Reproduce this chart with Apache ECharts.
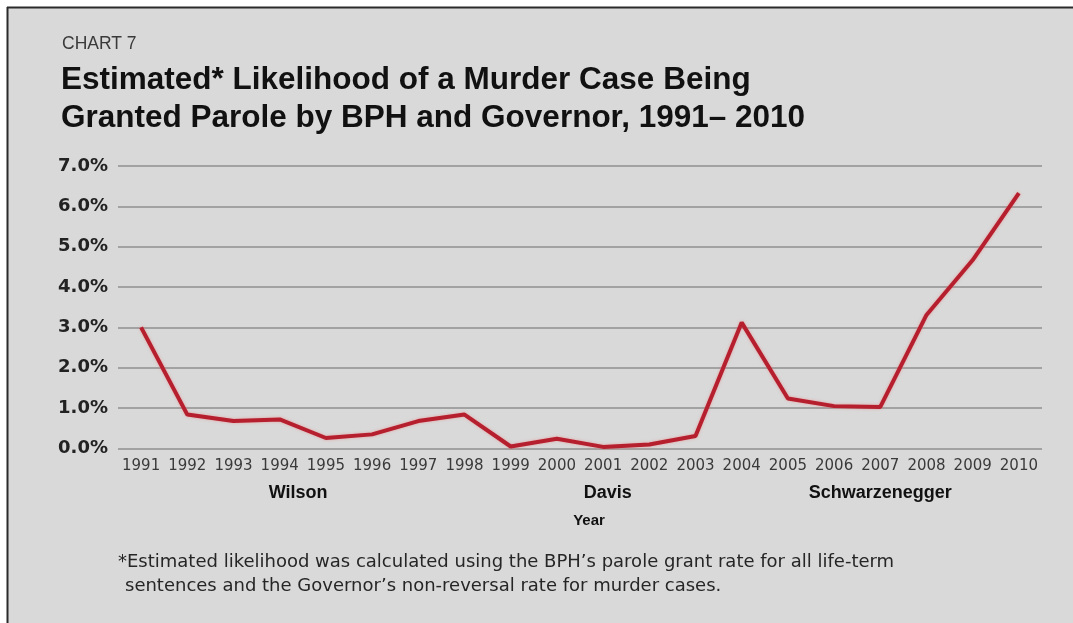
<!DOCTYPE html>
<html>
<head>
<meta charset="utf-8">
<script src="https://cdn.jsdelivr.net/npm/echarts@6/dist/echarts.min.js"></script>
<style>
  html, body { margin: 0; padding: 0; background: #ffffff; }
  #chart { width: 1073px; height: 623px; }
</style>
</head>
<body>
<div id="chart"></div>
<script>
// Years on the horizontal axis
const years = ['1991','1992','1993','1994','1995','1996','1997','1998','1999','2000',
               '2001','2002','2003','2004','2005','2006','2007','2008','2009','2010'];
// Estimated likelihood of parole (percent)
const likelihood = [3.00, 0.84, 0.68, 0.72, 0.26, 0.35, 0.68, 0.84, 0.05, 0.24,
                    0.04, 0.10, 0.31, 3.12, 1.24, 1.05, 1.03, 3.31, 4.67, 6.33];
// Governors and the (fractional) year each name is centred on
const governors = ['Wilson', 'Davis', 'Schwarzenegger'];
const governorYears = [1994.4, 2001.1, 2007.0];
const yTicks = [0, 1, 2, 3, 4, 5, 6, 7];

const chartLabel = 'CHART 7';
const titleLines = ['Estimated* Likelihood of a Murder Case Being',
                    'Granted Parole by BPH and Governor, 1991\u2013 2010'];
const yName = 'Percent';
const xName = 'Year';
const noteLines = ['*Estimated likelihood was calculated using the BPH\u2019s parole grant rate for all life-term',
                   'sentences and the Governor\u2019s non-reversal rate for murder cases.'];

const chart = echarts.init(document.getElementById('chart'), null, { renderer: 'canvas' });

const GRID = { left: 118, right: 31, top: 166, bottom: 174.5 };

function yearToPixel(year) {
  const idx = year - Number(years[0]);
  const lo = Math.floor(idx), hi = Math.ceil(idx);
  const x0 = chart.convertToPixel({ xAxisIndex: 0 }, lo);
  const x1 = chart.convertToPixel({ xAxisIndex: 0 }, hi);
  return x0 + (x1 - x0) * (idx - lo);
}

function buildGraphics() {
  const g = [
    { type: 'rect', shape: { x: 8, y: 8, width: 1073, height: 623 }, style: { fill: '#d9d9d9' }, z: -10 },
    { type: 'line', shape: { x1: 7, y1: 7.5, x2: 1073, y2: 7.5 }, style: { stroke: '#2a2a2a', lineWidth: 2 }, z: -9 },
    { type: 'line', shape: { x1: 7.5, y1: 7, x2: 7.5, y2: 623 }, style: { stroke: '#2a2a2a', lineWidth: 2 }, z: -9 },
    { type: 'text', left: 62, top: 35, style: { text: chartLabel, font: '17.5px "Liberation Sans"', fill: '#3a3a3a' } },
    { type: 'text', left: 61, top: 64, style: { text: titleLines[0], font: 'bold 31.5px "Liberation Sans"', fill: '#111111' } },
    { type: 'text', left: 61, top: 102, style: { text: titleLines[1], font: 'bold 31.5px "Liberation Sans"', fill: '#111111' } },
    { type: 'text', x: 33, y: 300, rotation: Math.PI / 2, originX: 33, originY: 300,
      style: { text: yName, font: 'bold 21px "Liberation Sans"', fill: '#111111', align: 'center', verticalAlign: 'middle' } },
    { type: 'text', left: 118, top: 553, style: { text: noteLines[0], font: '18px "DejaVu Sans"', fill: '#262626' } },
    { type: 'text', left: 125, top: 577, style: { text: noteLines[1], font: '18px "DejaVu Sans"', fill: '#262626' } }
  ];
  governors.forEach(function (name, i) {
    g.push({ type: 'text', x: yearToPixel(governorYears[i]), y: 493,
      style: { text: name, font: 'bold 18px "Liberation Sans"', fill: '#111111', align: 'center', verticalAlign: 'middle' } });
  });
  g.push({ type: 'text', x: 589, y: 521,
    style: { text: xName, font: 'bold 15px "Liberation Sans"', fill: '#111111', align: 'center', verticalAlign: 'middle' } });
  return g;
}

chart.setOption({
  animation: false,
  backgroundColor: '#ffffff',
  grid: GRID,
  xAxis: {
    type: 'category',
    data: years,
    boundaryGap: true,
    axisLine: { show: false },
    axisTick: { show: false },
    axisLabel: { color: '#3a3a3a', fontFamily: 'DejaVu Sans', fontSize: 15, margin: 10, interval: 0 }
  },
  yAxis: {
    type: 'value',
    min: yTicks[0],
    max: yTicks[yTicks.length - 1],
    interval: 1,
    axisLine: { show: false },
    axisTick: { show: false },
    axisLabel: {
      formatter: function (v) { return v.toFixed(1) + '%'; },
      fontFamily: 'DejaVu Sans', fontWeight: 'bold', fontSize: 18, color: '#222222', margin: 10
    },
    splitLine: { lineStyle: { color: '#a2a2a2', width: 2 } }
  },
  series: [{
    type: 'line',
    data: likelihood,
    symbol: 'none',
    lineStyle: { color: '#b51f2e', width: 4, shadowColor: 'rgba(240,120,120,0.6)', shadowBlur: 3 },
    z: 5
  }]
});

chart.setOption({ graphic: buildGraphics() });
</script>
</body>
</html>
